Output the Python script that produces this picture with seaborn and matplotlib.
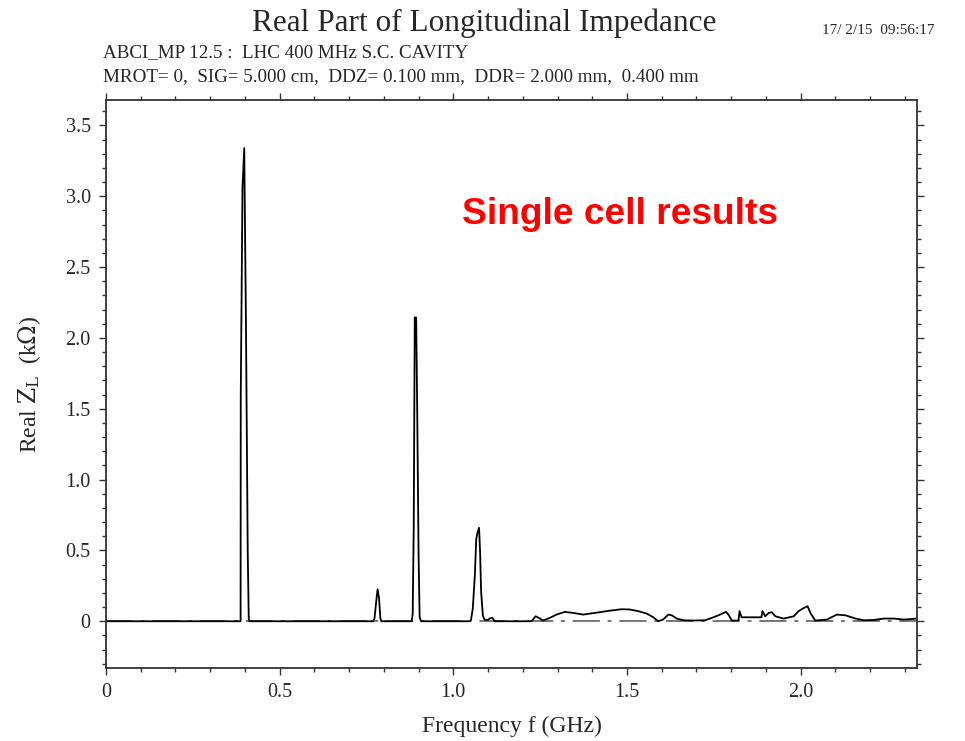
import numpy as np
import pandas as pd
import matplotlib
matplotlib.use("Agg")
import matplotlib.pyplot as plt
from matplotlib.ticker import MultipleLocator, FixedLocator, FixedFormatter
import seaborn as sns

# ---- data ----
freq_ghz = [0.0, 0.3875, 0.388, 0.393, 0.398, 0.403, 0.408, 0.411, 0.413,
            0.770, 0.773, 0.778, 0.782, 0.786, 0.790, 0.793,
            0.880, 0.883, 0.886, 0.889, 0.893, 0.896, 0.900, 0.903, 0.907,
            1.048, 1.051, 1.056, 1.062, 1.066, 1.069, 1.074, 1.077, 1.080, 1.085,
            1.090, 1.100, 1.105, 1.112, 1.119,
            1.225, 1.237, 1.249, 1.258, 1.278, 1.297, 1.321, 1.345, 1.374, 1.393,
            1.422, 1.451, 1.485, 1.508, 1.533, 1.557, 1.576, 1.590, 1.604, 1.619,
            1.629, 1.643, 1.662, 1.691, 1.725, 1.749, 1.768, 1.785, 1.792, 1.802,
            1.816, 1.821, 1.824, 1.830, 1.845, 1.883, 1.887, 1.890, 1.898, 1.908,
            1.917, 1.927, 1.951, 1.980, 1.994, 2.009, 2.020, 2.028, 2.042, 2.076,
            2.104, 2.129, 2.158, 2.182, 2.210, 2.239, 2.268, 2.297, 2.335]
real_zl_kohm = [0.0, 0.0, 1.59, 3.06, 3.34, 2.09, 0.50, 0.02, 0.0,
                0.0, 0.02, 0.14, 0.226, 0.165, 0.02, 0.0,
                0.0, 0.05, 0.665, 2.145, 2.145, 1.50, 0.46, 0.03, 0.0,
                0.0, 0.01, 0.09, 0.325, 0.58, 0.62, 0.66, 0.495, 0.21, 0.04,
                0.01, 0.01, 0.02, 0.025, 0.0,
                0.0, 0.035, 0.02, 0.005, 0.024, 0.047, 0.066, 0.059, 0.047, 0.054,
                0.064, 0.075, 0.085, 0.083, 0.071, 0.054, 0.028, 0.0, 0.012, 0.047,
                0.042, 0.019, 0.007, 0.005, 0.007, 0.028, 0.047, 0.066, 0.047, 0.005,
                0.005, 0.005, 0.071, 0.028, 0.028, 0.028, 0.028, 0.071, 0.035, 0.059,
                0.064, 0.035, 0.019, 0.035, 0.071, 0.094, 0.106, 0.059, 0.005, 0.012,
                0.047, 0.042, 0.019, 0.007, 0.009, 0.019, 0.019, 0.012, 0.019]

x_ticks = [0.0, 0.5, 1.0, 1.5, 2.0]
x_tick_labels = ["0", "0.5", "1.0", "1.5", "2.0"]
y_ticks = [0.0, 0.5, 1.0, 1.5, 2.0, 2.5, 3.0, 3.5]
y_tick_labels = ["0", "0.5", "1.0", "1.5", "2.0", "2.5", "3.0", "3.5"]

df = pd.DataFrame({"freq": freq_ghz, "zl": real_zl_kohm})

sns.set_theme(style="white")
plt.rcParams["font.family"] = ["Liberation Serif", "DejaVu Serif"]
plt.rcParams["mathtext.fontset"] = "dejavuserif"

fig = plt.figure(figsize=(9.65, 7.41), dpi=100)
ax = fig.add_axes([106 / 965, 1 - 668 / 741, (917 - 106) / 965, (668 - 100) / 741])

ax.axhline(0, color="#777777", lw=1.4, ls=(0, (14, 4, 2, 4)), zorder=1)
sns.lineplot(data=df, x="freq", y="zl", ax=ax, color="black", lw=1.3,
             estimator=None, sort=False, zorder=2)

ax.set_xlim(0, 2.335)
ax.set_ylim(-0.33, 3.68)

ax.xaxis.set_major_locator(FixedLocator(x_ticks))
ax.xaxis.set_major_formatter(FixedFormatter(x_tick_labels))
ax.xaxis.set_minor_locator(MultipleLocator(0.1))
ax.yaxis.set_major_locator(FixedLocator(y_ticks))
ax.yaxis.set_major_formatter(FixedFormatter(y_tick_labels))
ax.yaxis.set_minor_locator(MultipleLocator(0.1))

ax.tick_params(which="both", direction="out", top=True, right=True,
               bottom=True, left=True, color="#333333", width=1.0)
ax.tick_params(which="major", length=5, labelsize=14.5, pad=6)
ax.tick_params(which="minor", length=3)
for s in ax.spines.values():
    s.set_color("#333333")
    s.set_linewidth(1.3)

ax.set_xlabel("Frequency f (GHz)", fontsize=17, labelpad=10)
ax.set_ylabel(r"Real $\mathrm{Z_L}$  (k$\Omega$)", fontsize=17, labelpad=16)

fig.text(484 / 965, 1 - 23 / 741, "Real Part of Longitudinal Impedance",
         ha="center", va="center", fontsize=22.5)
fig.text(935 / 965, 1 - 30 / 741, "17/ 2/15  09:56:17",
         ha="right", va="center", fontsize=11)
fig.text(103 / 965, 1 - 53 / 741, "ABCI_MP 12.5 :  LHC 400 MHz S.C. CAVITY",
         ha="left", va="center", fontsize=13.7)
fig.text(103 / 965, 1 - 77 / 741,
         "MROT= 0,  SIG= 5.000 cm,  DDZ= 0.100 mm,  DDR= 2.000 mm,  0.400 mm",
         ha="left", va="center", fontsize=13.7)

ax.text(620 / 965, 1 - 214 / 741, "Single cell results", transform=fig.transFigure,
        ha="center", va="center", fontsize=26.7, fontweight="bold", color="#ff0000",
        family=["Liberation Sans", "DejaVu Sans"])

fig.savefig("out.png", dpi=100)
